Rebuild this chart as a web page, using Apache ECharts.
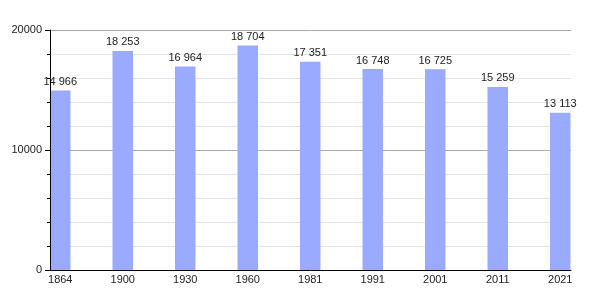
<!DOCTYPE html>
<html><head><meta charset="utf-8">
<script src="https://cdn.jsdelivr.net/npm/echarts@6/dist/echarts.min.js"></script>
<style>html,body{margin:0;padding:0;background:#fff}#c{width:600px;height:300px}</style>
</head><body><div id="c"></div>
<script>
const categories = ['1864','1900','1930','1960','1981','1991','2001','2011','2021'];
const population = [14966,18253,16964,18704,17351,16748,16725,15259,13113];
const yTicks = [0, 10000, 20000];

function fmt(v){ return String(v).replace(/\B(?=(\d{3})+(?!\d))/g, ' '); }

const chart = echarts.init(document.getElementById('c'), null, {renderer:'canvas'});
const font = 'Liberation Sans, Arial, sans-serif';
const yMin = yTicks[0], yMax = yTicks[yTicks.length-1];
chart.setOption({
  animation:false,
  grid:[
    {left:50, right:29, top:30, bottom:30},
    {left:60.25, width:500, top:30, bottom:30}
  ],
  xAxis:[
    {gridIndex:0, type:'category', data:categories, axisLine:{lineStyle:{color:'#000',width:1}},
     axisTick:{show:false}, axisLabel:{show:false}, z:5},
    {gridIndex:1, type:'category', data:categories, boundaryGap:false,
     axisLine:{show:false}, axisTick:{show:false},
     axisLabel:{color:'#222', fontSize:11, fontFamily:font, margin:4, interval:0}}
  ],
  yAxis:[
    {gridIndex:0, type:'value', min:yMin, max:yMax, interval:10000,
     axisLine:{show:false}, axisTick:{show:false}, axisLabel:{show:false},
     splitLine:{show:true, lineStyle:{color:'#aaa'}},
     minorTick:{show:false, splitNumber:5},
     minorSplitLine:{show:true, lineStyle:{color:'#e4e4e4'}}},
    {gridIndex:1, type:'value', min:yMin, max:yMax, show:false, splitLine:{show:false}},
    {gridIndex:0, type:'value', min:yMin, max:yMax, interval:10000, position:'left',
     axisLine:{show:true, lineStyle:{color:'#000'}},
     axisTick:{show:true, length:5, lineStyle:{color:'#000'}},
     minorTick:{show:true, splitNumber:5, length:3, lineStyle:{color:'#000'}},
     splitLine:{show:false}, minorSplitLine:{show:false},
     axisLabel:{color:'#222', fontSize:11, fontFamily:font, margin:8, formatter:v=>String(v)}, z:5}
  ],
  series:[{
    type:'bar', xAxisIndex:1, yAxisIndex:1, data:population, barWidth:20.5, clip:false,
    itemStyle:{color:'#99aaff'}, z:2,
    label:{show:true, position:'top', distance:3, color:'#222', fontSize:11, fontFamily:font,
      formatter:p=>fmt(p.value)}
  }]
});
</script></body></html>
